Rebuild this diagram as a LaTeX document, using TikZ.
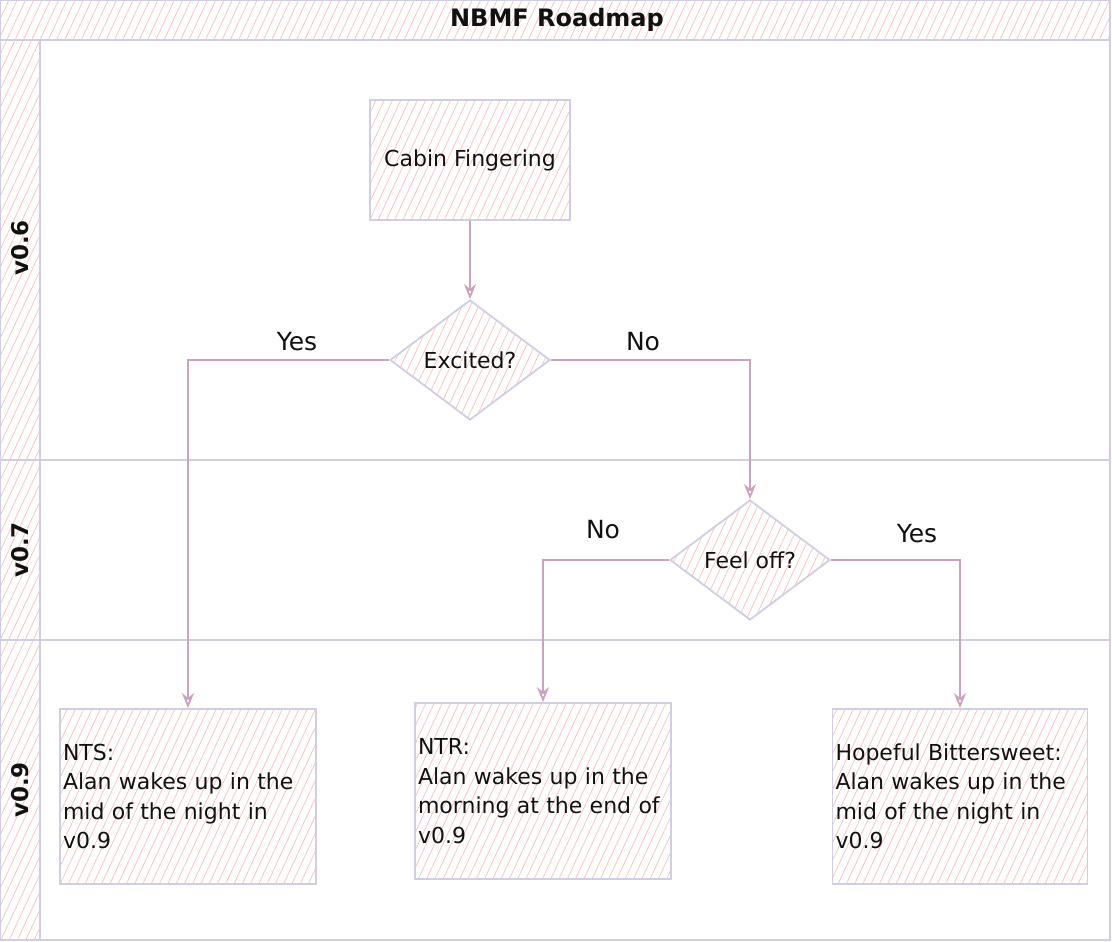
\documentclass[tikz,border=0pt]{standalone}
\usepackage{fontspec}
\setmainfont{DejaVu Sans}
\usetikzlibrary{shapes.geometric,arrows.meta,patterns.meta}
\definecolor{lav}{HTML}{D0CEE2}
\definecolor{hatch}{HTML}{F6C5BF}
\definecolor{arrowc}{HTML}{CDA2BE}
\definecolor{txt}{HTML}{111111}
\tikzset{
  hatched/.style={pattern={Lines[angle=65,distance=7.5pt,line width=0.8pt]},pattern color=hatch},
  frame/.style={draw=lav,line width=1.8pt},
  box/.style={frame,hatched,rectangle,inner sep=3pt,text=txt,font=\fontsize{22}{29.5}\selectfont},
  decision/.style={frame,hatched,diamond,aspect=1.3333,minimum width=160pt,minimum height=120pt,inner sep=0pt,text=txt,font=\fontsize{22}{24}\selectfont},
  flow/.style={draw=arrowc,line width=1.8pt,-{Stealth[open,length=15pt,width=12pt,line width=1.8pt]}},
  edgelabel/.style={text=txt,font=\fontsize{25}{28}\selectfont,inner sep=0pt},
  lanelabel/.style={text=txt,font=\bfseries\fontsize{23}{26}\selectfont,rotate=90,inner sep=0pt}
}
\begin{document}
\begin{tikzpicture}[x=1pt,y=-1pt]
\useasboundingbox (0,0) rectangle (1112,942);
% pool
\path[hatched] (0,0) rectangle (1110,40);
\path[hatched] (0,40) rectangle (40,940);
\draw[frame] (0,0) rectangle (1110,940);
\draw[frame] (0,40) -- (1110,40);
\draw[frame] (40,40) -- (40,940);
\draw[frame] (0,460) -- (1110,460);
\draw[frame] (0,640) -- (1110,640);
\node[text=txt,font=\bfseries\fontsize{24}{26}\selectfont,inner sep=0pt] (title) at (557,20) {NBMF Roadmap};
\node[lanelabel] (l06) at (20,248) {v0.6};
\node[lanelabel] (l07) at (20,550) {v0.7};
\node[lanelabel] (l09) at (20,790) {v0.9};
% nodes
\node[box,minimum width=200pt,minimum height=120pt,align=center] (cabin) at (470,160) {Cabin Fingering};
\node[decision] (excited) at (470,360) {Excited?};
\node[decision] (feel) at (750,560) {Feel off?};
\node[box,minimum width=256pt,minimum height=175pt,text width=250pt,align=left] (nts) at (188,796.5) {NTS:\\Alan wakes up in the\\mid of the night in\\v0.9};
\node[box,minimum width=256pt,minimum height=176pt,text width=250pt,align=left] (ntr) at (543,791) {NTR:\\Alan wakes up in the\\morning at the end of\\v0.9};
\node[box,minimum width=255pt,minimum height=175pt,text width=249pt,align=left] (hope) at (960,796.5) {Hopeful Bittersweet:\\Alan wakes up in the\\mid of the night in\\v0.9};
% connectors
\draw[flow] (cabin.south) -- (excited.north);
\draw[flow] (excited.west) -| (nts.north);
\draw[flow] (excited.east) -| (feel.north);
\draw[flow] (feel.west) -| (ntr.north);
\draw[flow] (feel.east) -| (hope.north);
% labels
\node[edgelabel] (yes1) at (297,342) {Yes};
\node[edgelabel] (no1) at (643,342) {No};
\node[edgelabel] (no2) at (603,530) {No};
\node[edgelabel] (yes2) at (917,534) {Yes};
\end{tikzpicture}
\end{document}
